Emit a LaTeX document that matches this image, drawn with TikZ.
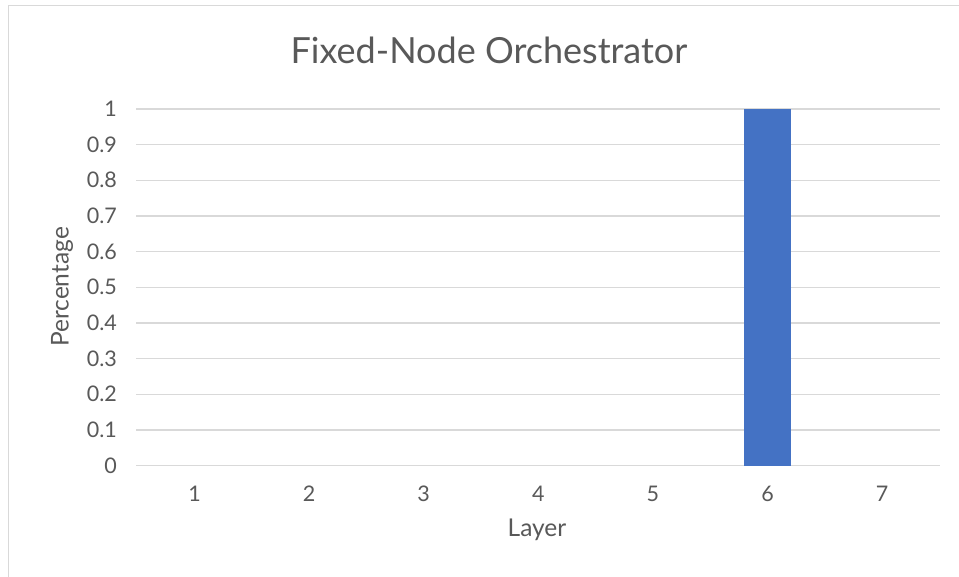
\documentclass[tikz,border=0pt]{standalone}
\usepackage{fontspec}
\setmainfont{Lato}
\definecolor{txt}{HTML}{595959}
\definecolor{grid}{HTML}{D9D9D9}
\definecolor{bar}{HTML}{4472C4}
\definecolor{frame}{HTML}{D9D9D9}
\begin{document}
\begin{tikzpicture}[x=1pt,y=-1pt,
  every node/.style={text=txt,inner sep=0pt},
  gridline/.style={draw=grid,line width=1.3pt},
  ticklabel/.style={font=\fontsize{21.5}{21.5}\selectfont},
  axistitle/.style={font=\fontsize{24.5}{24.5}\selectfont},
  charttitle/.style={font=\fontsize{36}{36}\selectfont}]
\useasboundingbox (0,0) rectangle (959,577);
\fill[white] (0,0) rectangle (959,577);
% chart area frame
\draw[frame,line width=1.2pt] (8.5,600) -- (8.5,5.5) -- (980,5.5);
% title
\node[charttitle] (title) at (489,50) {Fixed-Node Orchestrator};
% horizontal gridlines and value labels
\foreach \v [count=\i from 0] in {0,0.1,0.2,0.3,0.4,0.5,0.6,0.7,0.8,0.9,1}{
  \pgfmathsetmacro{\yy}{465.5-35.65*\i}
  \draw[gridline] (136,\yy) -- (940,\yy);
  \node[ticklabel,anchor=east] (v\i) at (117,\yy) {\v};
}
% data bar for layer 6
\fill[bar] (744,465.5) rectangle (791,109);
% category labels
\foreach \c in {1,...,7}{
  \pgfmathsetmacro{\xx}{194.5+114.6*(\c-1)}
  \node[ticklabel] (c\c) at (\xx,493.5) {\c};
}
% axis titles
\node[axistitle] (xlab) at (537,530) {Layer};
\node[axistitle,rotate=90] (ylab) at (62,287) {Percentage};
\end{tikzpicture}
\end{document}
